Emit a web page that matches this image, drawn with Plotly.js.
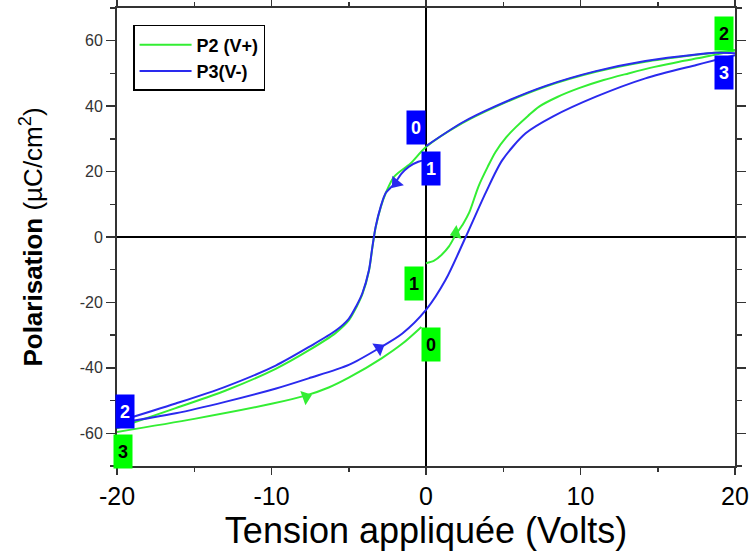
<!DOCTYPE html>
<html>
<head>
<meta charset="utf-8">
<script src="https://cdn.plot.ly/plotly-3.0.1.min.js"></script>
<style>html,body{margin:0;padding:0;background:#fff;}#chart{width:753px;height:556px;}</style>
</head>
<body>
<div id="chart"></div>
<script>
// ---- Data (Tension in Volts, Polarisation in µC/cm²) ----
// P2 (V+) : branch 1 -> 2 (rising)
var p2RiseV = [0, 0.5, 1.0, 1.5, 1.9, 2.4, 2.8, 3.4, 4.0, 4.5, 5.2, 5.8, 6.6, 7.3, 8.5, 9.9, 11.5, 13.1, 14.8, 16.4, 18.0, 20];
var p2RiseP = [-8, -7.3, -5.5, -2.8, 0.5, 4, 7.5, 15.5, 21.5, 26, 30.5, 33.5, 37, 39.8, 42.8, 45.5, 48, 50, 52, 53.6, 55, 57];
// P2 (V+) : branch 2 -> 3 (descending)
var p2DescV = [20, 18.75, 17.5, 14.2, 11, 7.75, 4.5, 2.35, 0, -1, -2.07, -2.6, -2.93, -3.26, -3.47, -3.69, -4.12, -4.5, -5, -5.84, -7.57, -9.73, -13, -16.2, -20];
var p2DescP = [57.2, 56.4, 55.7, 53.6, 50.5, 46, 39.8, 34.8, 27.5, 22.5, 18.4, 13.5, 9.1, 2.9, -3.2, -10.3, -17.5, -21.4, -25.5, -29.3, -34.6, -40.3, -47, -52.3, -58.5];
// P2 (V+) : branch 3 -> 0 (lower)
var p2LowV = [-20, -15, -10, -7.8, -6.3, -5, -2.85, -1.5, -0.3];
var p2LowP = [-59.6, -55.6, -51, -48.5, -46, -43, -37, -32.5, -27.5];

// P3 (V-) : branch 1 -> 2 (descending)
var p3DescV = [0, -0.5, -1.1, -1.6, -2.0, -2.6, -2.93, -3.26, -3.47, -3.69, -4.12, -4.5, -5, -5.84, -7.57, -9.73, -13, -16.2, -20];
var p3DescP = [23.5, 23, 21.5, 19.3, 16.5, 13.5, 9.3, 3.1, -3, -10.1, -17.2, -21, -25, -28.6, -33.6, -39.3, -45.8, -50.9, -56.5];
// P3 (V-) : branch 2 -> 3 (rising)
var p3RiseV = [-20, -16.2, -13, -9.7, -7.6, -5, -3.04, -1.53, 0, 1.27, 2.57, 3.86, 4.94, 6.45, 8.2, 11, 14.2, 17.5, 18.75, 20];
var p3RiseP = [-57, -53.9, -50.4, -46.3, -43.2, -39.1, -34, -29.5, -22.3, -13.1, 0, 13.5, 23.5, 31.7, 36.8, 42.9, 48.5, 52.6, 54.1, 55.6];
// P3 (V-) : branch 3 -> 0 (upper)
var p3UpV = [20, 18.75, 17.5, 14.2, 11, 7.75, 4.5, 2.35, 0];
var p3UpP = [56.2, 56.3, 55.8, 53.8, 50.7, 46.2, 40, 35, 27.8];

// direction arrows
var p2ArrowV = [-7.77, 1.94];
var p2ArrowP = [-48.9, 1.2];
var p2ArrowAngle = [70, 250];
var p3ArrowV = [-1.94, -3.04];
var p3ArrowP = [16.5, -34];
var p3ArrowAngle = [220, 58];

// point labels
var p2LabelText = ['0', '1', '2', '3'];
var p2LabelV = [0.32, -0.8, 19.27, -19.6];
var p2LabelP = [-33, -14.3, 62.2, -65.7];
var p3LabelText = ['0', '1', '2', '3'];
var p3LabelV = [-0.65, 0.32, -19.5, 19.27];
var p3LabelP = [33.6, 20.8, -53.4, 50.3];

// axis ticks
var xTickVals = [-20, -10, 0, 10, 20];
var xTickText = ['-20', '-10', '0', '10', '20'];
var yTickVals = [-60, -40, -20, 0, 20, 40, 60];
var yTickText = ['-60', '-40', '-20', '0', '20', '40', '60'];

var GREEN = '#33ee33';
var BLUE = '#2a2aee';
var FONT = 'Liberation Sans, Arial, sans-serif';

function branch(x, y, color, name, show, group) {
  return {x: x, y: y, type: 'scatter', mode: 'lines', name: name, showlegend: show,
    legendgroup: group, line: {color: color, width: 2, shape: 'spline', smoothing: 0.8},
    hoverinfo: 'x+y'};
}

var traces = [
  branch(p2RiseV, p2RiseP, GREEN, 'P2 (V+)', true, 'p2'),
  branch(p2DescV, p2DescP, GREEN, 'P2 (V+)', false, 'p2'),
  branch(p2LowV, p2LowP, GREEN, 'P2 (V+)', false, 'p2'),
  branch(p3DescV, p3DescP, BLUE, 'P3(V-)', true, 'p3'),
  branch(p3RiseV, p3RiseP, BLUE, 'P3(V-)', false, 'p3'),
  branch(p3UpV, p3UpP, BLUE, 'P3(V-)', false, 'p3'),
  {x: p2ArrowV, y: p2ArrowP, type: 'scatter', mode: 'markers', showlegend: false, hoverinfo: 'skip',
   marker: {symbol: 'triangle-up', size: 13, color: GREEN, angle: p2ArrowAngle, line: {width: 0}}},
  {x: p3ArrowV, y: p3ArrowP, type: 'scatter', mode: 'markers', showlegend: false, hoverinfo: 'skip',
   marker: {symbol: 'triangle-up', size: 13, color: BLUE, angle: p3ArrowAngle, line: {width: 0}}}
];

var annotations = [];
p2LabelText.forEach(function (t, i) {
  annotations.push({x: p2LabelV[i], y: p2LabelP[i], xref: 'x', yref: 'y', text: '<b>' + t + '</b>',
    showarrow: false, bgcolor: '#00ff00', width: 16, height: 31,
    font: {family: FONT, size: 18, color: '#000'}});
});
p3LabelText.forEach(function (t, i) {
  annotations.push({x: p3LabelV[i], y: p3LabelP[i], xref: 'x', yref: 'y', text: '<b>' + t + '</b>',
    showarrow: false, bgcolor: '#0000ff', width: 16, height: 31,
    font: {family: FONT, size: 18, color: '#fff'}});
});

var layout = {
  width: 753, height: 556,
  margin: {l: 117, r: 18, t: 8, b: 90},
  paper_bgcolor: '#fff', plot_bgcolor: '#fff',
  font: {family: FONT, color: '#000'},
  showlegend: true,
  legend: {x: 0.026, y: 0.963, xanchor: 'left', yanchor: 'top', bgcolor: '#fff',
    bordercolor: '#000', borderwidth: 1.5, font: {family: FONT, size: 18, weight: 700, color: '#000'},
    tracegroupgap: 0, itemwidth: 52},
  xaxis: {
    range: [-20, 20], tickvals: xTickVals, ticktext: xTickText, showgrid: false,
    zeroline: true, zerolinecolor: '#000', zerolinewidth: 1.5,
    showline: true, linecolor: '#333', linewidth: 2, mirror: 'allticks',
    ticks: 'outside', ticklen: 7, tickwidth: 1.5, tickcolor: '#333',
    minor: {dtick: 5, tick0: 0, ticks: 'outside', ticklen: 4, tickwidth: 1.5, tickcolor: '#333', showgrid: false},
    tickfont: {family: FONT, size: 25, color: '#000'},
    title: {text: 'Tension appliquée (Volts)', font: {family: FONT, size: 36, color: '#000'}, standoff: 8}
  },
  yaxis: {
    range: [-70, 70], tickvals: yTickVals, ticktext: yTickText, showgrid: false,
    zeroline: true, zerolinecolor: '#000', zerolinewidth: 1.5,
    showline: true, linecolor: '#333', linewidth: 2, mirror: 'allticks',
    ticks: 'outside', ticklen: 9, tickwidth: 1.5, tickcolor: '#333',
    minor: {dtick: 10, tick0: 0, ticks: 'outside', ticklen: 5, tickwidth: 1.5, tickcolor: '#333', showgrid: false},
    tickfont: {family: FONT, size: 16, color: '#333'},
    title: {text: '<b>Polarisation</b> (µC/cm<sup>2</sup>)', font: {family: FONT, size: 26, color: '#000'}, standoff: 30}
  },
  annotations: annotations
};

Plotly.newPlot('chart', traces, layout, {displayModeBar: false, staticPlot: true});
</script>
</body>
</html>
